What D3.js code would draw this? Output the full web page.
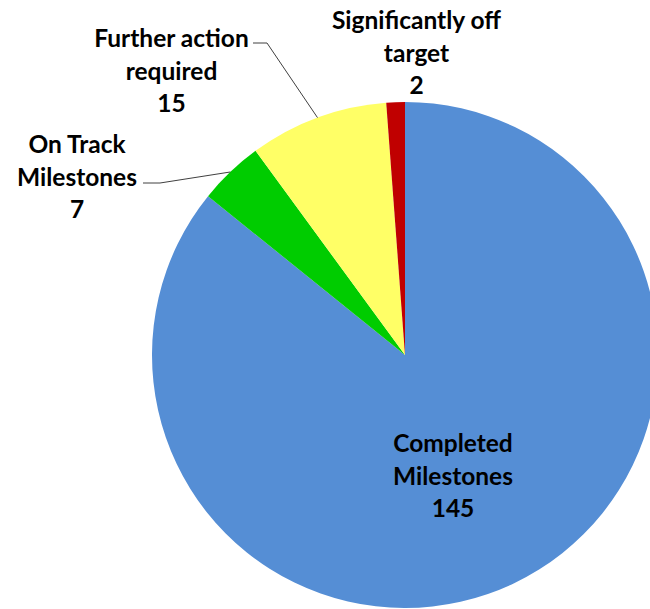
<!DOCTYPE html>
<html><head><meta charset="utf-8">
<script src="https://cdn.jsdelivr.net/npm/d3@7"></script>
<style>html,body{margin:0;padding:0;background:#fff;}svg{display:block;}</style>
</head><body>
<svg id="c" width="650" height="609"></svg>
<script>
const categories = ["Completed Milestones", "On Track Milestones", "Further action required", "Significantly off target"];
const values = [145, 7, 15, 2];
const labelLines = [["Completed", "Milestones"], ["On Track", "Milestones"], ["Further action", "required"], ["Significantly off", "target"]];
const colors = ["#558ED5", "#00CC00", "#FFFF66", "#C00000"];

const svg = d3.select("#c");
const cx = 405, cy = 355, R = 253;
const g = svg.append("g").attr("transform", `translate(${cx},${cy})`);
const data = categories.map((c, i) => ({name: c, value: values[i], lines: labelLines[i], color: colors[i]}));
const pie = d3.pie().value(d => d.value).sort(null);
const arcs = pie(data);
const arc = d3.arc().innerRadius(0).outerRadius(R);

g.selectAll("path").data(arcs).join("path")
  .attr("d", arc).attr("fill", d => d.data.color);

// label layout (baseline of first line, relative to pie center)
const layout = [
  {x: 48, y: 97, leader: null},
  {x: -328, y: -202, leader: {x0: -262, y0: -172, x1: -245}},
  {x: -233.5, y: -308, leader: {x0: -152, y0: -312, x1: -138}},
  {x: 11.5, y: -326, leader: null}
];
const fs = 24.5, lh = 32.5;
arcs.forEach((a, i) => {
  const L = layout[i];
  const t = g.append("text").attr("text-anchor", "middle")
    .attr("font-family", "Lato, 'Open Sans', sans-serif").attr("font-weight", "bold")
    .attr("font-size", fs).attr("fill", "#000");
  const lines = a.data.lines.concat([String(a.data.value)]);
  lines.forEach((ln, k) => {
    t.append("tspan").attr("x", L.x).attr("y", L.y + k * lh).text(ln);
  });
  if (L.leader) {
    const mid = (a.startAngle + a.endAngle) / 2;
    const px = R * Math.sin(mid), py = -R * Math.cos(mid);
    g.append("path")
      .attr("d", `M${L.leader.x0},${L.leader.y0}H${L.leader.x1}L${px},${py}`)
      .attr("fill", "none").attr("stroke", "#404040").attr("stroke-width", 1);
  }
});
</script>
</body></html>
